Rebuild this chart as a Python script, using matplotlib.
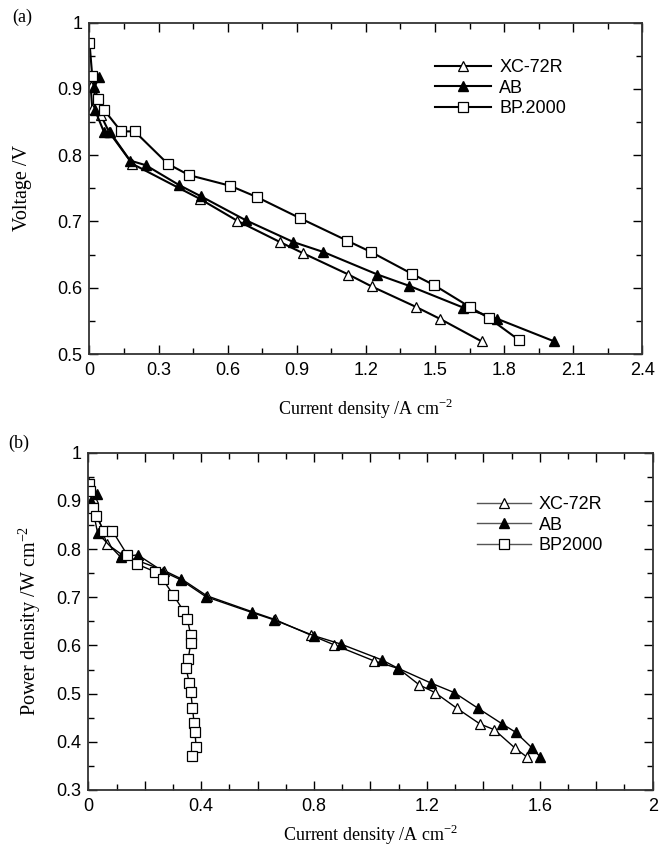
import numpy as np
import matplotlib.pyplot as plt
from matplotlib.ticker import MultipleLocator, FuncFormatter

# ---------------------------------------------------------------------------
# Data
# ---------------------------------------------------------------------------

# (a) polarisation curves: current density (A cm-2) vs voltage (V)
xc_a_i = [0.005, 0.012, 0.05, 0.085, 0.186, 0.48, 0.642, 0.827, 0.928,
          1.124, 1.225, 1.418, 1.522, 1.703]
xc_a_v = [0.905, 0.870, 0.860, 0.835, 0.787, 0.734, 0.701, 0.669, 0.652,
          0.620, 0.602, 0.571, 0.553, 0.519]

ab_a_i = [0.043, 0.021, 0.024, 0.063, 0.089, 0.176, 0.244, 0.389, 0.484,
          0.678, 0.885, 1.015, 1.250, 1.387, 1.623, 1.771, 2.018]
ab_a_v = [0.918, 0.903, 0.868, 0.835, 0.835, 0.792, 0.785, 0.755, 0.738,
          0.702, 0.669, 0.654, 0.620, 0.603, 0.570, 0.553, 0.519]

bp_a_i = [0.0, 0.012, 0.036, 0.062, 0.137, 0.196, 0.340, 0.432, 0.610,
          0.726, 0.914, 1.119, 1.222, 1.400, 1.496, 1.651, 1.735, 1.865]
bp_a_v = [0.970, 0.919, 0.885, 0.869, 0.836, 0.836, 0.787, 0.770, 0.754,
          0.737, 0.705, 0.671, 0.654, 0.621, 0.604, 0.571, 0.554, 0.521]

# (b)
xc_b_i = [0.005, 0.015, 0.065, 0.12, 0.27, 0.33, 0.42, 0.58, 0.66, 0.79,
          0.872, 1.012, 1.099, 1.173, 1.229, 1.305, 1.388, 1.439, 1.512, 1.553]
xc_b_p = [0.935, 0.905, 0.811, 0.788, 0.755, 0.738, 0.703, 0.670, 0.654,
          0.621, 0.601, 0.568, 0.552, 0.518, 0.502, 0.470, 0.437, 0.425,
          0.387, 0.369]

ab_b_i = [0.0, 0.03, 0.01, 0.033, 0.115, 0.175, 0.266, 0.328, 0.417, 0.581,
          0.658, 0.800, 0.894, 1.040, 1.096, 1.214, 1.297, 1.380, 1.467,
          1.514, 1.573, 1.601]
ab_b_p = [0.940, 0.914, 0.900, 0.833, 0.783, 0.788, 0.753, 0.736, 0.701,
          0.668, 0.653, 0.620, 0.603, 0.570, 0.553, 0.522, 0.502, 0.470,
          0.437, 0.420, 0.387, 0.369]

bp_b_i = [0.004, 0.007, 0.018, 0.026, 0.056, 0.085, 0.138, 0.171, 0.236,
          0.264, 0.301, 0.337, 0.351, 0.363, 0.363, 0.354, 0.346, 0.358,
          0.363, 0.369, 0.375, 0.378, 0.382, 0.369]
bp_b_p = [0.934, 0.921, 0.886, 0.869, 0.838, 0.838, 0.788, 0.769, 0.753,
          0.737, 0.705, 0.672, 0.654, 0.622, 0.605, 0.571, 0.554, 0.522,
          0.504, 0.471, 0.439, 0.421, 0.389, 0.371]

SERIF = ['Liberation Serif', 'DejaVu Serif']
SANS = ['Liberation Sans', 'DejaVu Sans']

plt.rcParams['font.family'] = SANS
plt.rcParams['font.size'] = 13
plt.rcParams['mathtext.fontset'] = 'custom'
plt.rcParams['mathtext.rm'] = 'Liberation Serif'

TICK_FS = 13
LEG_FS = 13
XLAB_FS = 13
YLAB_FS = 14.5


def style_axes(ax):
    ax.tick_params(which='both', direction='in', top=True, right=True,
                   labelsize=TICK_FS, width=1.0)
    ax.tick_params(which='major', length=6.5)
    ax.tick_params(which='minor', length=4)
    ax.tick_params(axis='y', which='major', pad=5)
    ax.tick_params(axis='x', which='major', pad=6)
    for s in ax.spines.values():
        s.set_linewidth(1.3)
        s.set_color('#333333')


fig = plt.figure(figsize=(6.59, 8.51), dpi=100)

# ---------------------------------------------------------------------------
# (a)
# ---------------------------------------------------------------------------
ax1 = fig.add_axes([0.1358, 0.584, 0.8389, 0.3893])
lw_a = 1.5
ax1.plot(xc_a_i, xc_a_v, '-', color='black', lw=lw_a, marker='^', ms=7,
         mfc='white', mec='black', mew=0.9, label='XC-72R')
ax1.plot(ab_a_i, ab_a_v, '-', color='black', lw=lw_a, marker='^', ms=7,
         mfc='black', mec='black', label='AB')
ax1.plot(bp_a_i, bp_a_v, '-', color='black', lw=lw_a, marker='s', ms=7,
         mfc='white', mec='black', mew=0.9, label='BP.2000')
ax1.set_xlim(0, 2.4)
ax1.set_ylim(0.5, 1.0)
ax1.xaxis.set_major_locator(MultipleLocator(0.3))
ax1.xaxis.set_minor_locator(MultipleLocator(0.15))
ax1.yaxis.set_major_locator(MultipleLocator(0.1))
ax1.yaxis.set_minor_locator(MultipleLocator(0.05))
ax1.xaxis.set_major_formatter(FuncFormatter(lambda v, p: f'{v:g}'))
ax1.yaxis.set_major_formatter(FuncFormatter(lambda v, p: f'{v:g}'))
style_axes(ax1)
ax1.set_xlabel(r'Current density /A cm$^{-2}$', family=SERIF,
               fontsize=XLAB_FS)
ax1.set_ylabel('Voltage /V', family=SERIF, fontsize=YLAB_FS)
ax1.xaxis.set_label_coords(0.5, -0.130)
ax1.yaxis.set_label_coords(-0.104, 0.5)
ax1.legend(loc='upper left', bbox_to_anchor=(0.625, 0.89), frameon=False,
           fontsize=LEG_FS, handlelength=3.1, handletextpad=0.45,
           labelspacing=0.2, borderpad=0, borderaxespad=0)
fig.text(0.018, 0.98, '(a)', family=SERIF, fontsize=13, va='center')

# ---------------------------------------------------------------------------
# (b)
# ---------------------------------------------------------------------------
ax2 = fig.add_axes([0.134, 0.0717, 0.8564, 0.3964])
lw_b = 1.0
ax2.plot(xc_b_i, xc_b_p, '-', color='black', lw=lw_b, marker='^', ms=7,
         mfc='white', mec='black', mew=0.9, label='XC-72R')
ax2.plot(ab_b_i, ab_b_p, '-', color='black', lw=lw_b, marker='^', ms=7,
         mfc='black', mec='black', label='AB')
ax2.plot(bp_b_i, bp_b_p, '-', color='black', lw=lw_b, marker='s', ms=7,
         mfc='white', mec='black', mew=0.9, label='BP2000')
ax2.set_xlim(0, 2.0)
ax2.set_ylim(0.3, 1.0)
ax2.xaxis.set_major_locator(MultipleLocator(0.2))
ax2.xaxis.set_minor_locator(MultipleLocator(0.1))
ax2.yaxis.set_major_locator(MultipleLocator(0.1))
ax2.yaxis.set_minor_locator(MultipleLocator(0.05))


def every_other(v, p):
    k = int(round(v / 0.2))
    return f'{v:g}' if k % 2 == 0 else ''


ax2.xaxis.set_major_formatter(FuncFormatter(every_other))
ax2.yaxis.set_major_formatter(FuncFormatter(lambda v, p: f'{v:g}'))
style_axes(ax2)
ax2.set_xlabel(r'Current density /A cm$^{-2}$', family=SERIF,
               fontsize=XLAB_FS)
ax2.set_ylabel(r'Power density /W cm$^{-2}$', family=SERIF,
               fontsize=YLAB_FS)
ax2.xaxis.set_label_coords(0.5, -0.098)
ax2.yaxis.set_label_coords(-0.080, 0.5)
leg2 = ax2.legend(loc='upper left', bbox_to_anchor=(0.688, 0.871),
                  frameon=False, fontsize=LEG_FS, handlelength=3.0,
                  handletextpad=0.45, labelspacing=0.2, borderpad=0,
                  borderaxespad=0)
for h in leg2.get_lines():
    h.set_color('#555555')
fig.text(0.013, 0.479, '(b)', family=SERIF, fontsize=13, va='center')

fig.savefig('out.png', dpi=100)
